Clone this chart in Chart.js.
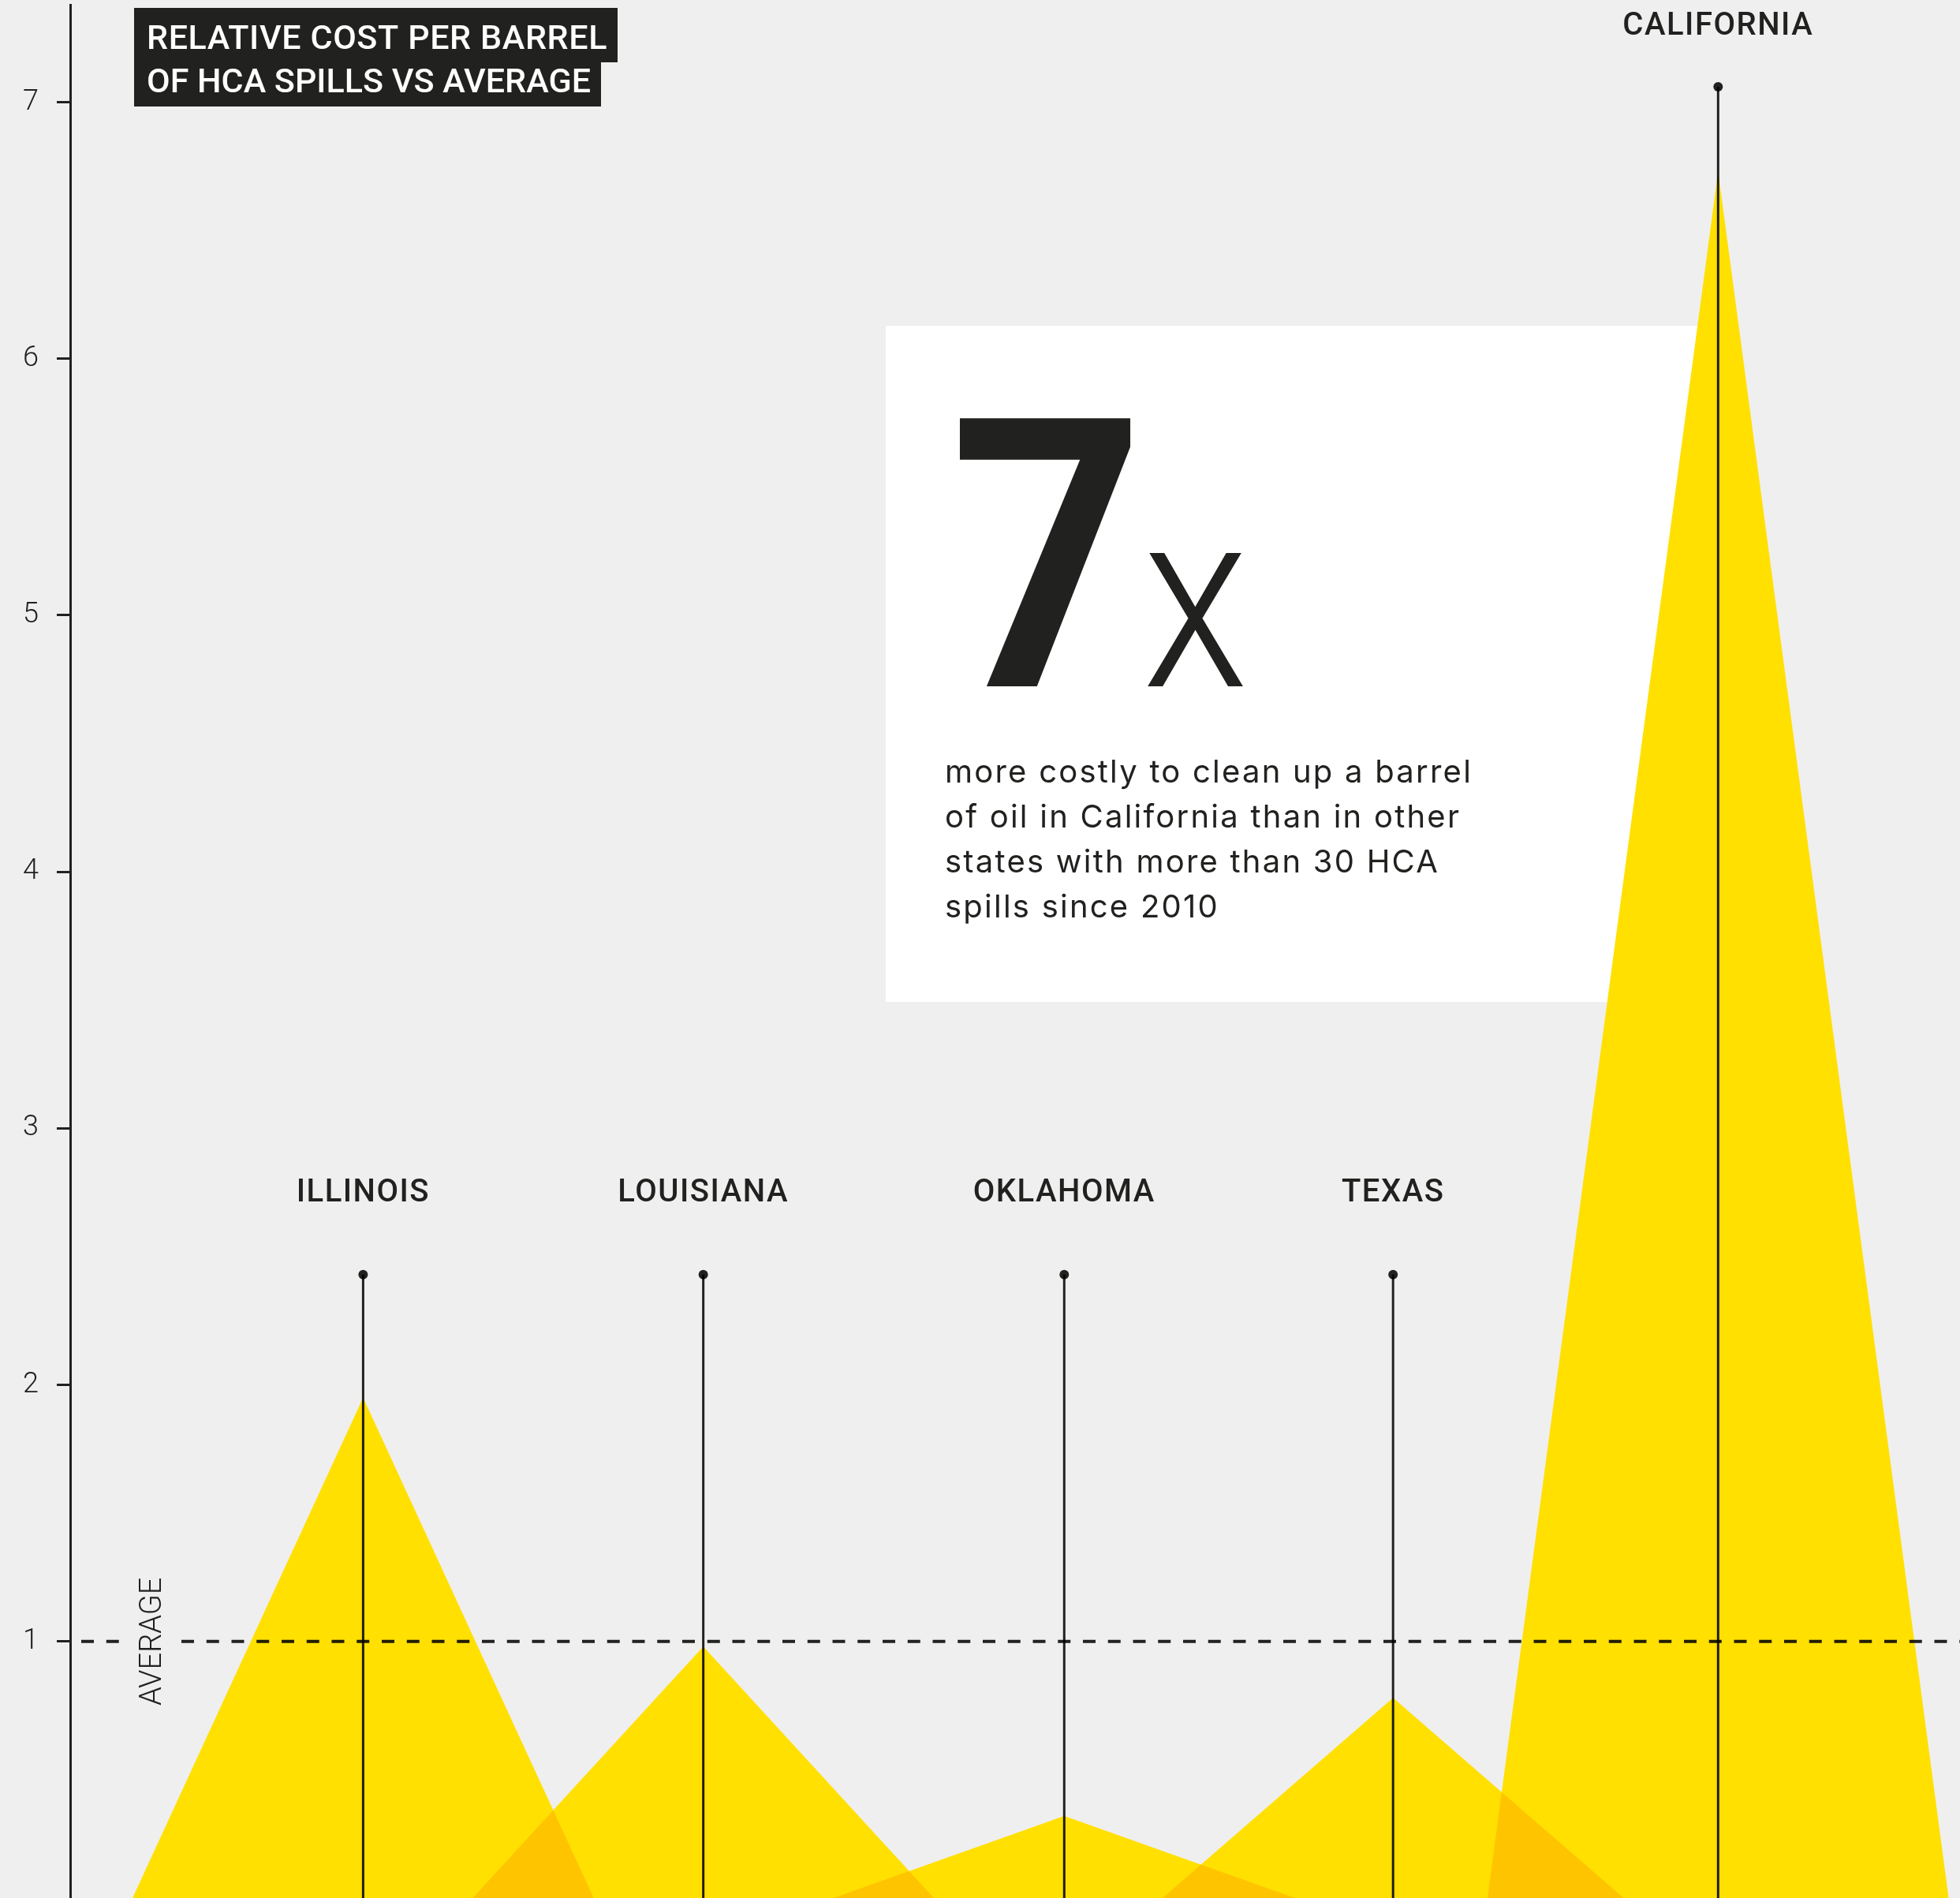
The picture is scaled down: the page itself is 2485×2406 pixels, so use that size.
<!DOCTYPE html>
<html>
<head>
<meta charset="utf-8">
<title>Relative cost per barrel of HCA spills vs average</title>
<script src="https://cdn.jsdelivr.net/npm/chart.js@4.4.1/dist/chart.umd.min.js"></script>
<style>
  html, body { margin: 0; padding: 0; background: #efefef; }
  #wrap { position: relative; width: 2485px; height: 2406px; overflow: hidden; }
</style>
</head>
<body>
<div id="wrap"><canvas id="chart"></canvas></div>
<script>
// States with more than 30 HCA spills since 2010
const states = ['ILLINOIS', 'LOUISIANA', 'OKLAHOMA', 'TEXAS', 'CALIFORNIA'];
// where each state sits on the hidden 0–100 x axis
const stateX = [15.5, 33.5, 52.6, 70.0, 87.2];
// cleanup cost per barrel relative to the average
const costVsAverage = [1.95, 0.98, 0.32, 0.78, 6.73];
// height of the label pin above each peak
const pinTop = [2.43, 2.43, 2.43, 2.43, 7.06];
const yTickValues = [1, 2, 3, 4, 5, 6, 7];
const averageValue = 1;

const titleLines = ['RELATIVE COST PER BARREL', 'OF HCA SPILLS VS AVERAGE'];
const calloutFigure = '7';
const calloutUnit = 'x';
const calloutLines = [
  'more costly to clean up a barrel',
  'of oil in California than in other',
  'states with more than 30 HCA',
  'spills since 2010'
];

const INK = '#21211f';
const YELLOW = '#ffe000';
const SPREAD = 12.2;   // half width of each peak's base, x-axis units

const peakSets = states.map((name, i) => ({
  label: name,
  order: 2,
  data: [
    { x: stateX[i] - SPREAD, y: 0 },
    { x: stateX[i], y: costVsAverage[i] },
    { x: stateX[i] + SPREAD, y: 0 }
  ],
  fill: 'origin',
  backgroundColor: YELLOW,
  borderWidth: 0,
  pointRadius: 0,
  tension: 0
}));

const pinSets = states.map((name, i) => ({
  label: name + ' pin',
  order: 1,
  data: [{ x: stateX[i], y: 0 }, { x: stateX[i], y: pinTop[i] }],
  borderColor: INK,
  borderWidth: 3,
  fill: false,
  pointRadius: [0, 6],
  pointHoverRadius: [0, 6],
  pointBackgroundColor: INK,
  pointBorderWidth: 0
}));

const averageSet = {
  label: 'AVERAGE',
  order: 0,
  data: [{ x: 0, y: averageValue }, { x: 100, y: averageValue }],
  borderColor: INK,
  borderWidth: 4,
  borderDash: [16, 15.75],
  borderDashOffset: 17.75,
  fill: false,
  pointRadius: 0
};

// draw text so that its inked left edge lands on `left`, squeezed horizontally by `sx`
function drawInkLeft(ctx, text, left, baseline, sx) {
  const m = ctx.measureText(text);
  ctx.save();
  ctx.translate(left, baseline);
  ctx.scale(sx, 1);
  ctx.fillText(text, m.actualBoundingBoxLeft, 0);
  ctx.restore();
}

// spread letters so a line of text fills `target` pixels
function spacingFor(ctx, text, target) {
  ctx.letterSpacing = '0px';
  const natural = ctx.measureText(text).width;
  return Math.max(0, (target - natural) / text.length).toFixed(2) + 'px';
}

const decorations = {
  id: 'decorations',
  beforeDatasetsDraw(chart) {
    const ctx = chart.ctx;
    ctx.save();
    // callout panel, sits underneath the peaks
    ctx.fillStyle = '#ffffff';
    ctx.fillRect(1123, 413, 1030, 857);
    ctx.fillStyle = INK;
    ctx.textAlign = 'left';
    ctx.textBaseline = 'alphabetic';
    ctx.font = '700 478px Roboto';
    drawInkLeft(ctx, calloutFigure, 1211, 870, 0.9);
    ctx.font = '300 320px Roboto';
    drawInkLeft(ctx, calloutUnit, 1453, 870, 0.86);
    ctx.font = '400 40px Inter';
    ctx.letterSpacing = spacingFor(ctx, calloutLines[0], 669);
    calloutLines.forEach((line, i) => ctx.fillText(line, 1198, 992 + i * 57));
    ctx.restore();
    // overlapping peaks darken each other
    ctx.globalCompositeOperation = 'multiply';
  },
  afterDatasetsDraw(chart) {
    const ctx = chart.ctx;
    ctx.globalCompositeOperation = 'source-over';
    const xs = chart.scales.x, ys = chart.scales.y;

    // AVERAGE label breaking the dashed line
    const yAvg = ys.getPixelForValue(averageValue);
    ctx.save();
    ctx.clearRect(151, yAvg - 6, 79, 12);
    ctx.translate(204, yAvg);
    ctx.rotate(-Math.PI / 2);
    ctx.fillStyle = INK;
    ctx.font = '300 38px Roboto';
    ctx.textAlign = 'center';
    ctx.textBaseline = 'alphabetic';
    ctx.fillText('AVERAGE', 0, 0);
    ctx.restore();

    // state names above the pins
    ctx.save();
    ctx.fillStyle = INK;
    ctx.font = '500 40px Roboto';
    ctx.letterSpacing = '1.5px';
    ctx.textAlign = 'center';
    ctx.textBaseline = 'alphabetic';
    states.forEach((name, i) => {
      const x = xs.getPixelForValue(stateX[i]);
      const yTop = ys.getPixelForValue(pinTop[i]);
      ctx.fillText(name, x, Math.max(yTop - 93, 44));
    });
    ctx.restore();

    // chart title in highlighted strips
    ctx.save();
    ctx.font = '500 43px Roboto';
    ctx.textAlign = 'left';
    ctx.textBaseline = 'alphabetic';
    const strips = [
      { top: 10, h: 69, base: 62, textWidth: 584 },
      { top: 79, h: 56, base: 117, textWidth: 563 }
    ];
    titleLines.forEach((line, i) => {
      ctx.letterSpacing = spacingFor(ctx, line, strips[i].textWidth);
      ctx.fillStyle = INK;
      ctx.fillRect(170, strips[i].top, strips[i].textWidth + 29, strips[i].h);
      ctx.fillStyle = '#ffffff';
      ctx.fillText(line, 186, strips[i].base);
    });
    ctx.restore();
  }
};

new Chart(document.getElementById('chart'), {
  type: 'line',
  data: { datasets: [...peakSets, ...pinSets, averageSet] },
  options: {
    responsive: true,
    maintainAspectRatio: false,
    animation: false,
    events: [],
    layout: { autoPadding: false, padding: { top: 6, left: 0, right: 0, bottom: 0 } },
    plugins: { legend: { display: false }, tooltip: { enabled: false } },
    scales: {
      x: { type: 'linear', min: 0, max: 100, display: false },
      y: {
        type: 'linear',
        min: 0,
        max: 7.38,
        afterBuildTicks(scale) { scale.ticks = yTickValues.map(v => ({ value: v })); },
        afterFit(scale) {
          scale.width = 89;
          scale.paddingTop = 0;
          scale.paddingBottom = 0;
        },
        border: { display: true, color: INK, width: 3 },
        grid: { drawOnChartArea: false, drawTicks: true, tickLength: 17, tickColor: INK, tickWidth: 3 },
        ticks: { padding: 23, color: INK, font: { family: 'Roboto', weight: 300, size: 36 } }
      }
    }
  },
  plugins: [decorations]
});
</script>
</body>
</html>
